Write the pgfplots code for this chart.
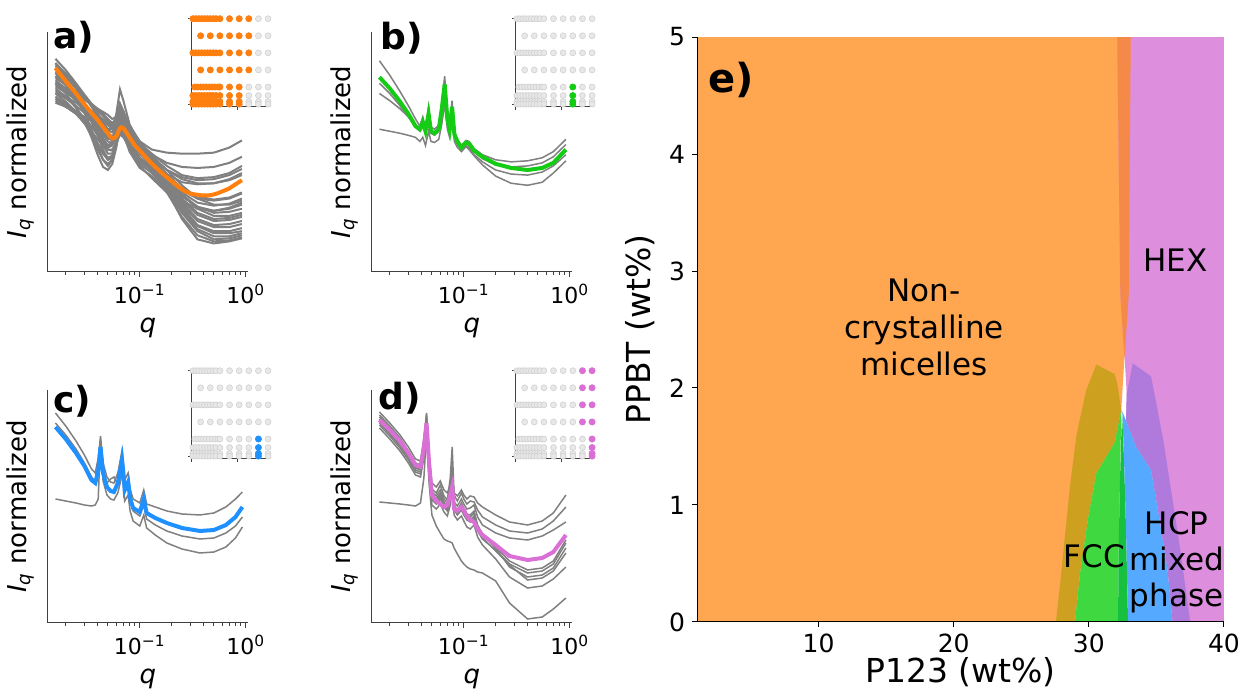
\documentclass[border=0pt]{standalone}
\usepackage{fontspec}
\setmainfont{DejaVu Sans}
\usepackage{pgfplots}
\usepackage{pgfplotstable}
\pgfplotsset{compat=1.18}

\definecolor{tabor}{RGB}{255,127,14}
\definecolor{lgreen}{RGB}{20,204,20}
\definecolor{dblue}{RGB}{30,144,255}
\definecolor{orch}{RGB}{218,112,214}
\definecolor{eor}{RGB}{255,166,80}
\definecolor{eordk}{RGB}{245,138,72}
\definecolor{epink}{RGB}{221,142,221}
\definecolor{egold}{RGB}{205,160,32}
\definecolor{egreen}{RGB}{64,216,64}
\definecolor{egreendk}{RGB}{24,192,64}
\definecolor{eblue}{RGB}{85,170,255}
\definecolor{epurp}{RGB}{176,122,221}

% panel a: grey SAXS curves
\pgfplotstableread{
q c1 c2 c3 c4 c5 c6 c7 c8 c9 c10 c11 c12 c13 c14 c15 c16 c17 c18 c19 c20 c21 c22 c23 c24
0.016 190 200 209 178 195 205 168 185 202 175 166 188 198 182 172 192 186 170 196 180 204 176 192 184
0.02  184 191 198 172 184 194 162 175 193 167 162 180 188 176 165 184 178 164 187 172 195 170 183 177
0.025 176 180 185 166 170 180 155 162 182 157 157 170 175 169 156 174 168 158 176 161 183 163 171 169
0.03  169 171 174 160 156 166 146 148 172 146 152 160 162 163 146 164 158 151 165 150 172 156 159 161
0.035 164 164 165 156 140 152 138 132 165 134 148 151 149 158 136 155 148 143 154 138 162 149 147 153
0.04  160 158 156 152 124 140 130 115 160 120 144 143 136 154 126 147 138 134 142 126 153 141 134 145
0.045 157 153 147 148 110 130 124 103 155 110 140 136 124 150 118 140 128 126 131 116 145 134 120 137
0.05  154 148 140 144 104 124 120 100 150 106 136 131 116 146 112 134 122 120 124 110 139 128 110 131
0.055 150 144 140 140 110 128 120 106 146 110 133 131 116 142 114 132 124 119 125 113 137 126 112 129
0.06  152 150 155 143 125 145 126 122 150 124 136 142 130 145 124 140 138 127 140 126 146 131 128 135
0.065 158 165 179 149 150 165 135 145 160 142 141 160 152 152 138 154 158 140 162 146 164 140 152 146
0.07  154 158 168 146 140 156 132 136 156 136 138 153 144 148 133 148 150 135 154 139 157 137 144 142
0.08  142 142 145 138 122 138 124 118 144 122 131 138 128 138 120 134 134 125 137 125 142 128 128 132
0.1   128 126 125 126 108 118 112 102 128 106 121 122 112 124 104 118 116 112 119 110 126 116 110 119
0.13  120 115 110 114 100 104 102 94  114 97  112 110 102 112 92  106 104 102 107 100 116 106 99  109
0.18  117 107 96  100 86  80  85  80  94  82  100 96  88  100 78  90  90  88  94  88  104 92  84  96
0.25  116 103 88  91  70  52  62  58  76  60  85  78  66  93  54  70  72  68  80  74  95  76  64  82
0.35  116 102 86  87  62  32  45  40  62  42  72  68  50  90  36  56  58  52  72  64  92  64  46  74
0.5   117 103 87  87  60  28  38  32  55  35  66  65  44  91  30  50  52  46  70  60  93  58  40  71
0.7   122 107 91  90  63  30  38  33  55  35  66  67  44  95  31  51  53  47  72  62  97  59  40  73
0.92  129 113 97  95  68  33  40  36  58  38  70  72  47  101 34  54  56  50  77  66  104 62  43  78
}\tabA

\pgfplotstableread{
q y
0.016 200
0.02 187
0.025 175
0.03 164.5
0.035 156
0.04 149
0.045 142
0.05 136
0.055 131
0.06 133
0.065 141
0.07 141
0.08 132
0.09 124
0.1 119
0.12 110
0.15 100
0.2 89
0.25 81
0.3 77
0.4 75
0.5 76
0.6 79
0.7 82
0.8 86
0.92 90
}\orgA

% panel b
\pgfplotstableread{
q gr g1 g2 g3 g4
0.016  191 207 175 140 185
0.02   180 193 168 138 175
0.025  167 177 160 136 163
0.03   155 163 152 134 152
0.035  143 150 144 132 142
0.0385 140 143 139 128 138
0.041  147 152 145 132 145
0.0435 138 140 137 124 136
0.0465 155 162 152 138 152
0.049  138 142 137 128 136
0.053  136 140 135 127 134
0.058  140 144 138 130 138
0.062  160 165 156 145 158
0.066  184 192 178 165 182
0.070  150 155 148 140 148
0.0735 140 144 139 132 138
0.0775 162 168 158 150 160
0.0815 135 138 133 128 132
0.087  128 130 126 122 125
0.095  122 124 121 118 119
0.105  127 129 126 123 124
0.112  126 128 124 120 122
0.125  119 121 118 114 115
0.15   113 115 111 105 108
0.2    106 110 105 94  100
0.28   102 108 103 87  96
0.4    100 109 104 85  95
0.55   102 112 107 88  98
0.7    107 118 113 97  104
0.92   120 130 125 109 115
}\tabB

% panel c
\pgfplotstableread{
q bl g1 g2 g3
0.016  196 210 124 200
0.02   184 197 122 188
0.025  170 182 120 174
0.03   157 168 118 160
0.035  143 154 117 146
0.038  140 150 118 142
0.0405 152 165 124 154
0.0426 176 187 182 172
0.045  150 160 142 150
0.049  136 146 128 140
0.053  132 141 124 144
0.057  131 140 123 146
0.062  140 150 130 138
0.066  155 165 142 150
0.068  163 173 150 158
0.070  150 160 138 146
0.072  133 143 122 130
0.0776 141 150 128 138
0.081  125 134 112 122
0.0865 115 124 102 112
0.1    111 120 97  107
0.109  124 133 108 118
0.116  110 119 95  104
0.14   105 116 88  98
0.18   100 112 80  92
0.25   95  109 74  87
0.37   92  108 70  84
0.5    93  110 71  85
0.65   98  116 76  90
0.8    106 124 85  97
0.93   116 131 96  106
}\tabC

% panel d
\pgfplotstableread{
q pk d1 d2 d3 d4 d5 d6 d7 d8 d9
0.016  203 211 208 206 202 198 121 204 200 195
0.02   193 200 197 195 191 187 120 193 189 184
0.025  182 188 185 183 179 175 119 181 177 172
0.03   170 176 172 170 167 163 118 168 165 160
0.035  158 164 160 158 155 151 117 156 153 148
0.039  156 162 158 156 153 149 120 154 151 146
0.042  175 185 180 178 174 169 145 176 171 165
0.0445 200 210 208 206 203 200 190 204 201 197
0.047  160 170 165 162 158 153 140 159 155 148
0.05   128 140 134 131 127 123 108 128 124 118
0.055  122 136 130 127 123 119 97  124 120 114
0.06   119 142 138 133 128 124 90  130 126 119
0.065  116 133 127 124 120 116 84  121 117 111
0.07   118 130 123 120 116 112 82  117 113 107
0.0745 128 138 145 134 128 124 81  131 126 118
0.0777 136 150 176 158 150 145 80  155 147 138
0.081  114 130 128 121 117 113 75  118 114 108
0.087  112 127 122 117 112 108 69  113 109 103
0.095  116 133 130 124 118 113 62  120 115 107
0.1    113 128 124 119 113 108 59  115 110 102
0.107  107 124 119 114 107 103 56  109 104 96
0.115  103 127 122 115 106 101 54  108 103 94
0.125  101 126 121 118 110 105 53  112 107 98
0.135  94  120 113 106 96  92  51  98  93  86
0.15   88  116 106 98  88  84  50  89  85  78
0.2    78  108 98  90  76  73  42  75  72  64
0.27   67  101 92  85  62  59  20  56  58  46
0.4    63  98  90  83  53  50  4   46  43  35
0.55   65  102 94  87  55  52  6   48  45  37
0.7    71  110 102 93  62  59  14  55  52  44
0.92   88  128 116 101 83  80  25  75  70  56
}\tabD

% sample grid (P123, PPBT, phase: 0 micelles, 1 FCC, 2 HCP, 3 HEX)
\pgfplotstableread[row sep=\\]{
x y ph\\
1 5 0\\ 2.5 5 0\\ 4 5 0\\ 5.5 5 0\\ 7 5 0\\ 8.5 5 0\\ 10 5 0\\ 11.5 5 0\\ 13 5 0\\ 15 5 0\\
20 5 0\\ 25 5 0\\ 30 5 0\\ 35 5 3\\ 40 5 3\\
5 4 0\\ 10 4 0\\ 15 4 0\\ 20 4 0\\ 25 4 0\\ 30 4 0\\ 35 4 3\\ 40 4 3\\
1 3 0\\ 2.5 3 0\\ 4 3 0\\ 5.5 3 0\\ 7 3 0\\ 8.5 3 0\\ 10 3 0\\ 11.5 3 0\\ 13 3 0\\ 15 3 0\\
20 3 0\\ 25 3 0\\ 30 3 0\\ 35 3 3\\ 40 3 3\\
5 2 0\\ 10 2 0\\ 15 2 0\\ 20 2 0\\ 25 2 0\\ 30 2 0\\ 35 2 3\\ 40 2 3\\
2 1 0\\ 3.5 1 0\\ 5 1 0\\ 6.5 1 0\\ 8 1 0\\ 9.5 1 0\\ 11 1 0\\ 12.5 1 0\\ 14 1 0\\ 15 1 0\\
20 1 0\\ 25 1 0\\ 30 1 1\\ 35 1 2\\ 40 1 3\\
1 0.5 0\\ 2.5 0.5 0\\ 4 0.5 0\\ 5.5 0.5 0\\ 7 0.5 0\\ 8.5 0.5 0\\ 10 0.5 0\\ 11.5 0.5 0\\ 13 0.5 0\\ 15 0.5 0\\
20 0.5 0\\ 25 0.5 0\\ 30 0.5 1\\ 35 0.5 2\\ 40 0.5 3\\
1 0.15 0\\ 2.5 0.15 0\\ 4 0.15 0\\ 5.5 0.15 0\\ 7 0.15 0\\ 8.5 0.15 0\\ 10 0.15 0\\ 11.5 0.15 0\\ 13 0.15 0\\ 15 0.15 0\\
20 0.15 0\\ 25 0.15 0\\ 30 0.15 1\\ 35 0.15 2\\ 40 0.15 3\\
1 0 0\\ 2.5 0 0\\ 4 0 0\\ 5.5 0 0\\ 7 0 0\\ 8.5 0 0\\ 10 0 0\\ 11.5 0 0\\ 13 0 0\\ 15 0 0\\
20 0 0\\ 25 0 0\\ 30 0 1\\ 35 0 2\\ 40 0 3\\
}\grid

\tikzset{
  greyline/.style={draw=gray, line width=0.75pt},
  plab/.style={font=\fontsize{18}{20}\selectfont\bfseries, anchor=west, inner sep=0pt},
  regtxt/.style={font=\fontsize{15.5}{18.5}\selectfont, align=center},
}

\begin{document}
\begin{tikzpicture}
\useasboundingbox (0,0) rectangle (622pt,345.5pt);

% ---- a) ----
\begin{axis}[
  scale only axis, width=100pt, height=117.5pt, at={(24pt,209.5pt)}, anchor=south west,
  xmode=log, xmin=0.0136, xmax=1.05, ymin=0, ymax=235,
  axis x line*=bottom, axis y line*=left,
  axis line style={black!75, line width=0.5pt},
  xtick={0.1,1}, xticklabels={10\textsuperscript{−1},10\textsuperscript{0}},
  minor xtick={0.02,0.03,0.04,0.05,0.06,0.07,0.08,0.09,0.2,0.3,0.4,0.5,0.6,0.7,0.8,0.9},
  ytick=\empty, tick align=outside, major tick length=2.5pt, minor tick length=1.4pt,
  tick style={black!75, line width=0.5pt},
  ticklabel style={font=\fontsize{11}{13}\selectfont},
  label style={font=\fontsize{13}{15}\selectfont},
  xlabel={\itshape q}, ylabel={{\itshape I}\textsubscript{\itshape q} normalized},
  ylabel style={at={(axis description cs:-0.035,0.5)}, anchor=south},
  clip=false,
]
\pgfplotsinvokeforeach{c1,c2,c3,c4,c5,c6,c7,c8,c9,c10,c11,c12,c13,c14,c15,c16,c17,c18,c19,c20,c21,c22,c23,c24}{
  \addplot[greyline, line width=1pt] table[x=q,y=#1]{\tabA};
}
\addplot[color=tabor, line width=2pt, smooth] table[x=q,y=y]{\orgA};
\node[plab] at (axis description cs:0.025,0.979) {a)};
\end{axis}

% ---- b) ----
\begin{axis}[
  scale only axis, width=100pt, height=117.5pt, at={(186pt,209.5pt)}, anchor=south west,
  xmode=log, xmin=0.0136, xmax=1.05, ymin=0, ymax=235,
  axis x line*=bottom, axis y line*=left,
  axis line style={black!75, line width=0.5pt},
  xtick={0.1,1}, xticklabels={10\textsuperscript{−1},10\textsuperscript{0}},
  minor xtick={0.02,0.03,0.04,0.05,0.06,0.07,0.08,0.09,0.2,0.3,0.4,0.5,0.6,0.7,0.8,0.9},
  ytick=\empty, tick align=outside, major tick length=2.5pt, minor tick length=1.4pt,
  tick style={black!75, line width=0.5pt},
  ticklabel style={font=\fontsize{11}{13}\selectfont},
  label style={font=\fontsize{13}{15}\selectfont},
  xlabel={\itshape q}, ylabel={{\itshape I}\textsubscript{\itshape q} normalized},
  ylabel style={at={(axis description cs:-0.035,0.5)}, anchor=south},
  clip=false,
]
\pgfplotsinvokeforeach{g1,g2,g3,g4}{
  \addplot[greyline] table[x=q,y=#1]{\tabB};
}
\addplot[color=lgreen, line width=2pt] table[x=q,y=gr]{\tabB};
\node[plab] at (axis description cs:0.04,0.974) {b)};
\end{axis}

% ---- c) ----
\begin{axis}[
  scale only axis, width=100pt, height=116.5pt, at={(24pt,34pt)}, anchor=south west,
  xmode=log, xmin=0.0136, xmax=1.05, ymin=0, ymax=233,
  axis x line*=bottom, axis y line*=left,
  axis line style={black!75, line width=0.5pt},
  xtick={0.1,1}, xticklabels={10\textsuperscript{−1},10\textsuperscript{0}},
  minor xtick={0.02,0.03,0.04,0.05,0.06,0.07,0.08,0.09,0.2,0.3,0.4,0.5,0.6,0.7,0.8,0.9},
  ytick=\empty, tick align=outside, major tick length=2.5pt, minor tick length=1.4pt,
  tick style={black!75, line width=0.5pt},
  ticklabel style={font=\fontsize{11}{13}\selectfont},
  label style={font=\fontsize{13}{15}\selectfont},
  xlabel={\itshape q}, ylabel={{\itshape I}\textsubscript{\itshape q} normalized},
  ylabel style={at={(axis description cs:-0.035,0.5)}, anchor=south},
  clip=false,
]
\pgfplotsinvokeforeach{g1,g2,g3}{
  \addplot[greyline] table[x=q,y=#1]{\tabC};
}
\addplot[color=dblue, line width=2pt] table[x=q,y=bl]{\tabC};
\node[plab] at (axis description cs:0.025,0.953) {c)};
\end{axis}

% ---- d) ----
\begin{axis}[
  scale only axis, width=100pt, height=116.5pt, at={(186pt,34pt)}, anchor=south west,
  xmode=log, xmin=0.0136, xmax=1.05, ymin=0, ymax=233,
  axis x line*=bottom, axis y line*=left,
  axis line style={black!75, line width=0.5pt},
  xtick={0.1,1}, xticklabels={10\textsuperscript{−1},10\textsuperscript{0}},
  minor xtick={0.02,0.03,0.04,0.05,0.06,0.07,0.08,0.09,0.2,0.3,0.4,0.5,0.6,0.7,0.8,0.9},
  ytick=\empty, tick align=outside, major tick length=2.5pt, minor tick length=1.4pt,
  tick style={black!75, line width=0.5pt},
  ticklabel style={font=\fontsize{11}{13}\selectfont},
  label style={font=\fontsize{13}{15}\selectfont},
  xlabel={\itshape q}, ylabel={{\itshape I}\textsubscript{\itshape q} normalized},
  ylabel style={at={(axis description cs:-0.035,0.5)}, anchor=south},
  clip=false,
]
\pgfplotsinvokeforeach{d1,d2,d3,d4,d5,d6,d7,d8,d9}{
  \addplot[greyline] table[x=q,y=#1]{\tabD};
}
\addplot[color=orch, line width=2pt] table[x=q,y=pk]{\tabD};
\node[plab] at (axis description cs:0.03,0.966) {d)};
\end{axis}

% ---- insets (sample maps) ----
\begin{axis}[
  scale only axis, width=39.5pt, height=45pt, at={(95.5pt,292pt)}, anchor=south west,
  xmin=0, xmax=41, ymin=-0.17, ymax=5.1,
  axis x line*=bottom, axis y line*=left,
  axis line style={black!75, line width=0.5pt},
  xtick={0,24}, ytick={0,5}, xticklabels={}, yticklabels={},
  tick align=outside, major tick length=1.6pt,
  tick style={black!75, line width=0.5pt}, clip=false,
]
\addplot[only marks, mark=*, mark size=1.5pt, mark options={fill=black!9, draw=black!18, line width=0.3pt}] table[x=x,y=y]{\grid};
\addplot[only marks, mark=*, mark size=1.5pt, color=tabor, restrict expr to domain={\thisrow{ph}}{0:0}] table[x=x,y=y]{\grid};
\end{axis}

\begin{axis}[
  scale only axis, width=39.5pt, height=45pt, at={(257.5pt,292pt)}, anchor=south west,
  xmin=0, xmax=41, ymin=-0.17, ymax=5.1,
  axis x line*=bottom, axis y line*=left,
  axis line style={black!75, line width=0.5pt},
  xtick={0,24}, ytick={0,5}, xticklabels={}, yticklabels={},
  tick align=outside, major tick length=1.6pt,
  tick style={black!75, line width=0.5pt}, clip=false,
]
\addplot[only marks, mark=*, mark size=1.5pt, mark options={fill=black!9, draw=black!18, line width=0.3pt}] table[x=x,y=y]{\grid};
\addplot[only marks, mark=*, mark size=1.5pt, color=lgreen, restrict expr to domain={\thisrow{ph}}{1:1}] table[x=x,y=y]{\grid};
\end{axis}

\begin{axis}[
  scale only axis, width=39.5pt, height=45pt, at={(95.5pt,116pt)}, anchor=south west,
  xmin=0, xmax=41, ymin=-0.17, ymax=5.1,
  axis x line*=bottom, axis y line*=left,
  axis line style={black!75, line width=0.5pt},
  xtick={0,24}, ytick={0,5}, xticklabels={}, yticklabels={},
  tick align=outside, major tick length=1.6pt,
  tick style={black!75, line width=0.5pt}, clip=false,
]
\addplot[only marks, mark=*, mark size=1.5pt, mark options={fill=black!9, draw=black!18, line width=0.3pt}] table[x=x,y=y]{\grid};
\addplot[only marks, mark=*, mark size=1.5pt, color=dblue, restrict expr to domain={\thisrow{ph}}{2:2}] table[x=x,y=y]{\grid};
\end{axis}

\begin{axis}[
  scale only axis, width=39.5pt, height=45pt, at={(257.5pt,116pt)}, anchor=south west,
  xmin=0, xmax=41, ymin=-0.17, ymax=5.1,
  axis x line*=bottom, axis y line*=left,
  axis line style={black!75, line width=0.5pt},
  xtick={0,24}, ytick={0,5}, xticklabels={}, yticklabels={},
  tick align=outside, major tick length=1.6pt,
  tick style={black!75, line width=0.5pt}, clip=false,
]
\addplot[only marks, mark=*, mark size=1.5pt, mark options={fill=black!9, draw=black!18, line width=0.3pt}] table[x=x,y=y]{\grid};
\addplot[only marks, mark=*, mark size=1.5pt, color=orch, restrict expr to domain={\thisrow{ph}}{3:3}] table[x=x,y=y]{\grid};
\end{axis}

% ---- e) phase diagram ----
\begin{axis}[
  scale only axis, width=263.5pt, height=292.5pt,
  at={(348.5pt,34.5pt)}, anchor=south west,
  xmin=1, xmax=40, ymin=0, ymax=5,
  axis x line*=bottom, axis y line*=left,
  xtick={10,20,30,40}, ytick={0,1,2,3,4,5},
  tick align=outside, major tick length=2.5pt,
  tick style={black, line width=0.5pt},
  axis line style={black, line width=0.5pt},
  /pgf/number format/assume math mode=true,
  ticklabel style={font=\fontsize{12.5}{14}\selectfont},
  label style={font=\fontsize{16.5}{19}\selectfont},
  xlabel={P123 (wt\%)}, ylabel={PPBT (wt\%)},
  xlabel style={yshift=4.5pt},
  axis on top, clip=true,
]
\addplot[fill=eor, draw=none] coordinates {(1,0) (28.97,0) (29.35,0.42) (29.96,0.9) (30.55,1.27) (31.9,1.53) (32.4,1.81) (32.6,2.2) (32.95,2.8) (33.1,5) (1,5)} -- cycle;
\addplot[fill=epink, draw=none] coordinates {(32.1,5) (32.33,2.8) (32.68,2.2) (32.8,1.95) (32.75,1.72) (33.5,1.5) (34.6,1.3) (35.0,1.04) (35.8,0.47) (36.2,0) (40,0) (40,5)} -- cycle;
\addplot[fill=eordk, draw=none] coordinates {(32.1,5) (33.1,5) (32.95,2.8) (32.64,2.25) (32.33,2.8)} -- cycle;
\addplot[fill=egold, draw=none] coordinates {(27.56,0) (27.85,0.3) (28.2,0.7) (28.6,1.16) (29.1,1.61) (29.8,1.98) (30.55,2.2) (31.9,2.12) (32.1,2.04) (32.4,1.81) (31.9,1.53) (30.55,1.27) (29.96,0.9) (29.35,0.42) (28.97,0)} -- cycle;
\addplot[fill=egreen, draw=none] coordinates {(28.97,0) (29.35,0.42) (29.96,0.9) (30.55,1.27) (31.9,1.53) (32.4,1.81) (32.3,1.2) (32.2,0.6) (32.16,0)} -- cycle;
\addplot[fill=egreendk, draw=none] coordinates {(32.16,0) (32.2,0.6) (32.3,1.2) (32.45,1.8) (32.6,1.4) (32.75,0.8) (32.9,0)} -- cycle;
\addplot[fill=eblue, draw=none] coordinates {(32.9,0) (32.75,0.8) (32.6,1.4) (32.48,1.8) (32.75,1.72) (33.5,1.5) (34.6,1.3) (35.0,1.04) (35.8,0.47) (36.2,0)} -- cycle;
\addplot[fill=epurp, draw=none] coordinates {(32.8,1.95) (33.25,2.21) (34.6,2.1) (35.5,1.56) (36.2,1.04) (36.8,0.59) (37.5,0) (36.2,0) (35.8,0.47) (35.0,1.04) (34.6,1.3) (33.5,1.5) (32.75,1.72)} -- cycle;
\node[font=\fontsize{20}{22}\selectfont\bfseries, anchor=west, inner sep=0pt] at (axis cs:1.8,4.63) {e)};
\node[regtxt] at (axis cs:17.8,2.52) {Non-\\crystalline\\micelles};
\node[regtxt] at (axis cs:36.4,3.09) {HEX};
\node[regtxt] at (axis cs:30.4,0.56) {FCC};
\node[font=\fontsize{15.5}{18}\selectfont, align=center] at (axis cs:36.5,0.515) {HCP\\mixed\\phase};
\end{axis}
\end{tikzpicture}
\end{document}
